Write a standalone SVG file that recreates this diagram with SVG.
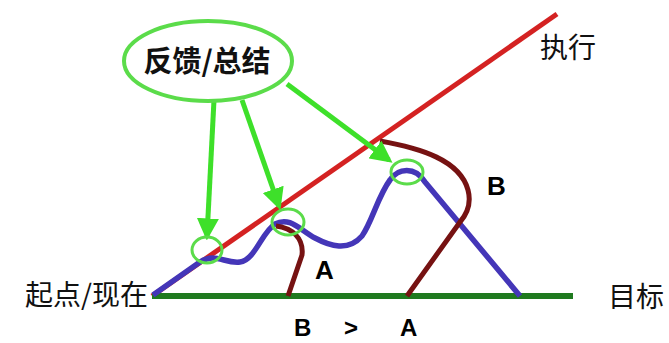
<svg xmlns="http://www.w3.org/2000/svg" width="669" height="343" viewBox="0 0 669 343">
<defs>
<style>
.cjk{font-family:"Noto Sans CJK SC","Noto Sans",sans-serif;fill:#111}
.lat{font-family:"Liberation Sans",Arial,sans-serif;font-weight:bold;fill:#000}
.arrow{stroke:#3ee02a;stroke-width:5;fill:none;marker-end:url(#ah)}
.ring{stroke:#5bdc4a;stroke-width:3;fill:none}
</style>
<marker id="ah" viewBox="0 0 10 10" refX="8" refY="5" markerWidth="4.4" markerHeight="4.4" orient="auto" markerUnits="strokeWidth">
<path d="M0,0 L10,5 L0,10 z" fill="#3ee02a"/>
</marker>
</defs>
<rect width="669" height="343" fill="#fff"/>
<g id="connectors">
<line x1="152" y1="296" x2="557" y2="14" stroke="#d42222" stroke-width="5"/>
<line x1="152" y1="296" x2="573" y2="296" stroke="#1f7a1f" stroke-width="6"/>
<path d="M153,295 L200,262 C215,252 225,264 240,262 C255,260 262,232 275,224 C290,216 300,230 315,238 C330,246 348,252 362,236 C372,222 378,196 390,180 C398,168 415,166 425,182 L520,296" stroke="#4436b8" stroke-width="5.5" fill="none" stroke-linejoin="round"/>
<path d="M276,226 C292,228 304,238 302,255 L288,296" stroke="#761212" stroke-width="5" fill="none"/>
<path d="M380,141 C420,148 460,160 468,190 C472,205 466,215 460,222 L407,296" stroke="#761212" stroke-width="5" fill="none"/>
<path class="arrow" d="M214,100 L207,236"/>
<path class="arrow" d="M242,100 L279,206"/>
<path class="arrow" d="M287,84 L389,160"/>
</g>
<g id="feedback">
<ellipse cx="208" cy="61" rx="84" ry="40" fill="#fff" stroke="#5bdc4a" stroke-width="4"/>
<text class="cjk" x="207" y="72" font-size="29" font-weight="bold" text-anchor="middle">反馈/总结</text>
</g>
<g id="ring1"><ellipse class="ring" cx="207" cy="250" rx="15" ry="13"/></g>
<g id="ring2"><ellipse class="ring" cx="288" cy="222" rx="16" ry="13"/></g>
<g id="ring3"><ellipse class="ring" cx="407" cy="172" rx="16" ry="12"/></g>
<g id="labels">
<text class="cjk" x="148" y="305" font-size="28" text-anchor="end">起点/现在</text>
<text class="cjk" x="608" y="307" font-size="28">目标</text>
<text class="cjk" x="540" y="58" font-size="28">执行</text>
<text class="lat" x="315" y="279" font-size="26">A</text>
<text class="lat" x="487" y="195" font-size="26">B</text>
<text class="lat" x="294" y="336" font-size="24">B</text>
<text class="lat" x="344" y="336" font-size="24">&gt;</text>
<text class="lat" x="400" y="336" font-size="24">A</text>
</g>
</svg>
